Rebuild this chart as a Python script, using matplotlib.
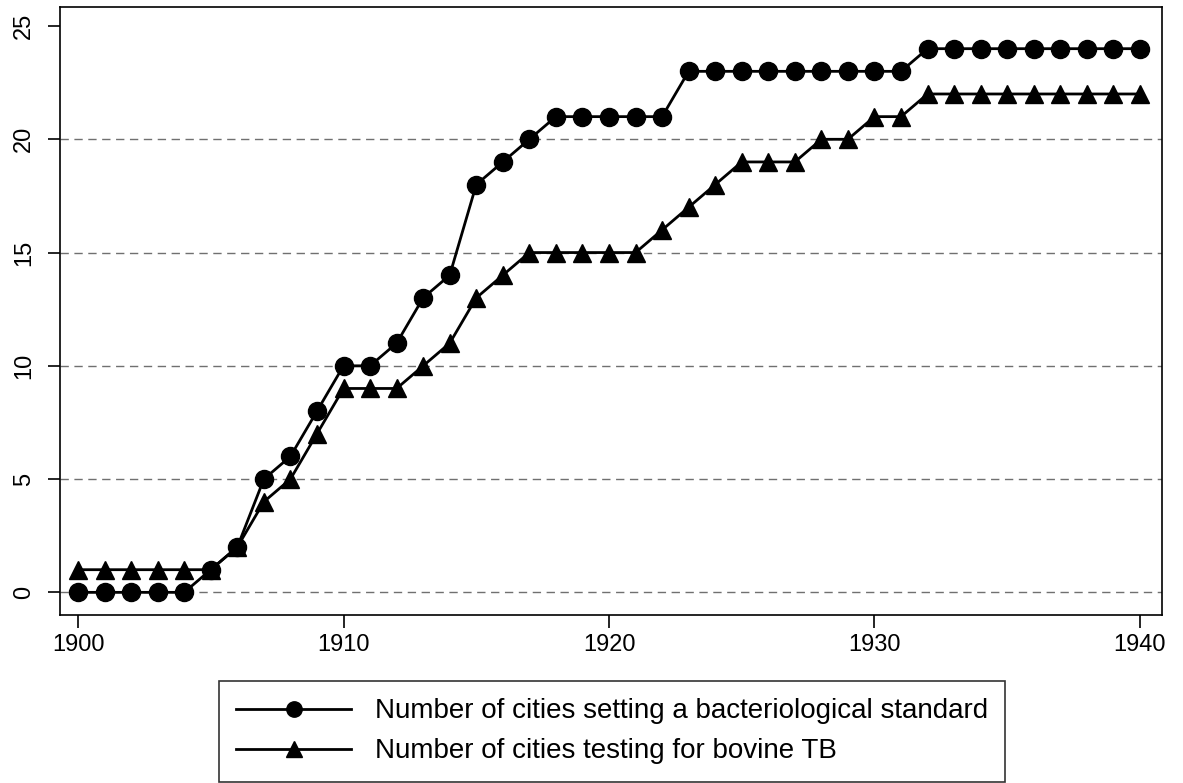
import numpy as np
import matplotlib
matplotlib.use("Agg")
from matplotlib import pyplot as plt

plt.rcParams['font.family'] = ['Liberation Sans Narrow', 'Liberation Sans', 'DejaVu Sans']

years = list(range(1900, 1941))
bact_standard = [0, 0, 0, 0, 0, 1, 2, 5, 6, 8,
                 10, 10, 11, 13, 14, 18, 19, 20, 21, 21,
                 21, 21, 21, 23, 23, 23, 23, 23, 23, 23,
                 23, 23, 24, 24, 24, 24, 24, 24, 24, 24, 24]
bovine_tb = [1, 1, 1, 1, 1, 1, 2, 4, 5, 7,
             9, 9, 9, 10, 11, 13, 14, 15, 15, 15,
             15, 15, 16, 17, 18, 19, 19, 19, 20, 20,
             21, 21, 22, 22, 22, 22, 22, 22, 22, 22, 22]
labels = ["Number of cities setting a bacteriological standard",
          "Number of cities testing for bovine TB"]

fig = plt.figure(figsize=(11.83, 7.83), dpi=100)
ax = fig.add_axes([60/1183, 1 - 615/783, 1102/1183, 608/783])

ax.plot(years, bact_standard, color='black', lw=2, marker='o', ms=13, label=labels[0])
ax.plot(years, bovine_tb, color='black', lw=2, marker='^', ms=13, label=labels[1])

ax.set_xlim(1899.32, 1940.83)
ax.set_ylim(-1.0, 25.84)
ax.set_xticks([1900, 1910, 1920, 1930, 1940])
ax.set_yticks([0, 5, 10, 15, 20, 25])
ax.tick_params(axis='both', labelsize=17, length=9, width=1.2, direction='out')
ax.tick_params(axis='x', pad=5)
ax.tick_params(axis='y', pad=9)
for t in ax.get_yticklabels():
    t.set_rotation(90)
    t.set_va('center')

for v in [0, 5, 10, 15, 20]:
    ax.axhline(v, color='#707070', lw=1, ls=(0, (6, 4)), zorder=0)

for s in ax.spines.values():
    s.set_linewidth(1.2)

leg = ax.legend(loc='upper center', bbox_to_anchor=(0.501, -0.109), ncol=1,
                fontsize=20, frameon=True, fancybox=False, edgecolor='black',
                handlelength=4.15, handletextpad=0.85, borderpad=0.62,
                labelspacing=0.5, borderaxespad=0, markerscale=0.85)
leg.get_frame().set_linewidth(1.2)

fig.savefig('out.png', dpi=100)
